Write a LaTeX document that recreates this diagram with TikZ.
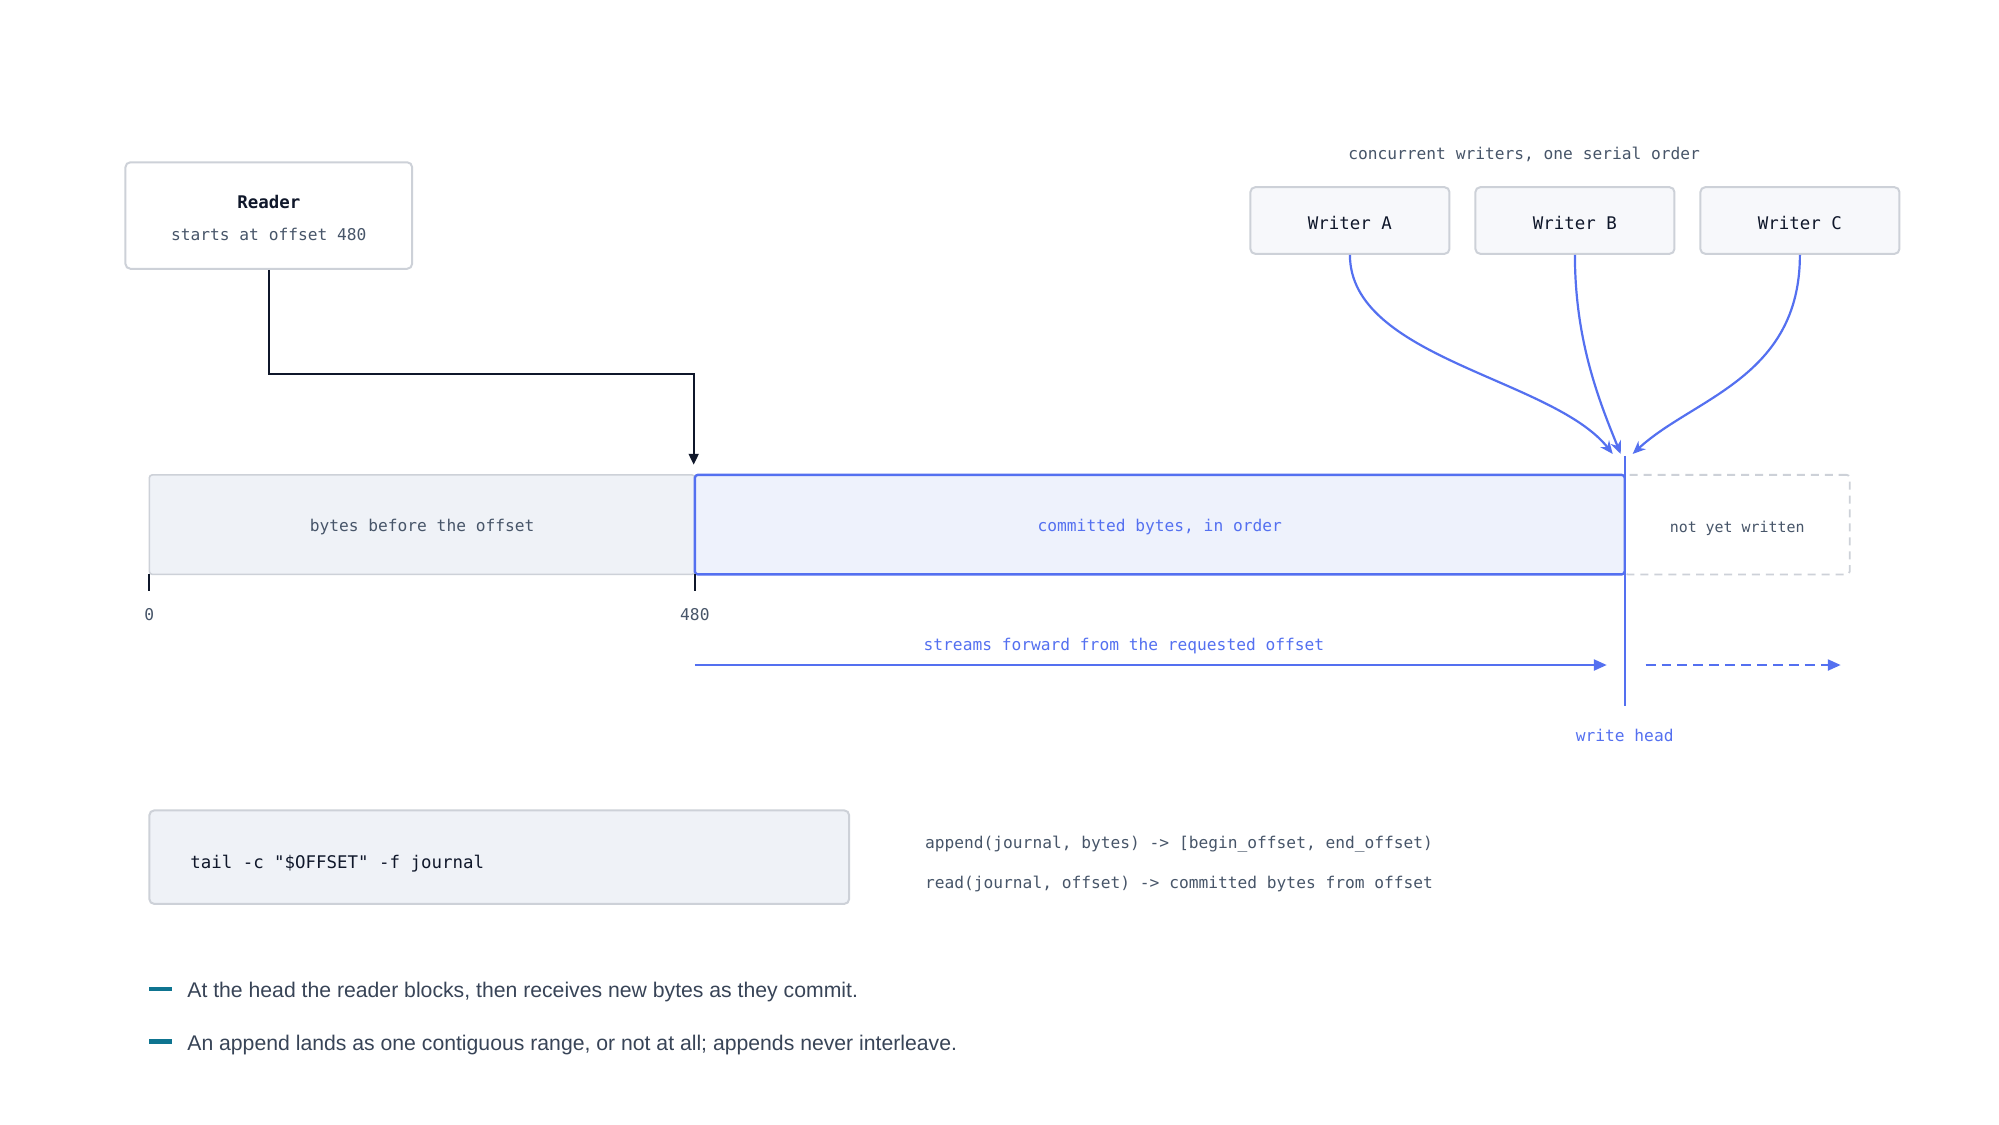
\documentclass[tikz,border=0pt]{standalone}
\usepackage{fontspec}
\setmainfont{Liberation Sans}
\setmonofont{DejaVu Sans Mono}
\usetikzlibrary{arrows.meta}
\definecolor{ink}{HTML}{0F172A}
\definecolor{slate}{HTML}{475569}
\definecolor{bluec}{HTML}{5470F0}
\definecolor{boxline}{HTML}{CDD1D8}
\definecolor{barfill}{HTML}{EFF2F7}
\definecolor{comfill}{HTML}{EEF2FC}
\definecolor{wfill}{HTML}{F7F8FB}
\definecolor{teal}{HTML}{0E7490}
\definecolor{bullettext}{HTML}{384457}
\tikzset{
  mono/.style={font=\ttfamily\fontsize{16.3}{18}\selectfont},
  lbl/.style={mono, text=slate, inner sep=0pt},
  card/.style={draw=boxline, line width=2pt, rounded corners=5pt, inner sep=0pt},
  barseg/.style={rounded corners=3pt, inner sep=0pt, minimum height=100pt},
  bluearrow/.style={draw=bluec, line width=2.4pt, -{Stealth[length=13pt,width=11pt]}},
  bullet/.style={font=\fontsize{21.3}{24}\selectfont, text=bullettext, inner sep=0pt, anchor=west},
}
\begin{document}
\begin{tikzpicture}[x=1pt,y=-1pt]
\useasboundingbox (0,0) rectangle (2008,1130);
\fill[white] (0,0) rectangle (2008,1130);

% Reader
\node[card, fill=white, minimum width=288pt, minimum height=107pt] (reader) at (270,216.5) {};
\node[lbl, text=ink, font=\ttfamily\bfseries\fontsize{17.5}{20}\selectfont] (readert) at (270,202.5) {Reader};
\node[lbl] (readers) at (270,235.5) {starts at offset 480};

% Bar
\node[barseg, draw=boxline, line width=1.6pt, fill=barfill, minimum width=548pt] (before) at (424,527) {};
\node[lbl] (beforet) at (424,529.5) {bytes before the offset};
\node[barseg, draw=bluec, line width=2.4pt, fill=comfill, minimum width=934pt] (committed) at (1165,527) {};
\node[lbl, text=bluec] (comt) at (1165,529.5) {committed bytes, in order};
\node[barseg, draw=boxline, line width=1.8pt, dashed, dash pattern=on 8pt off 6pt, minimum width=226pt] (notyet) at (1745,527) {};
\node[lbl, font=\ttfamily\fontsize{15}{17}\selectfont] (notyett) at (1745,530.5) {not yet written};

% reader connector
\coordinate (rtip) at ([yshift=9pt]committed.north west);
\draw[draw=ink, line width=2pt, -{Triangle[length=11pt,width=10pt]}] (reader.south) -- ++(0,105) -| (rtip);

% ticks
\coordinate (t0) at (150,577);
\coordinate (t480) at (698,577);
\draw[ink, line width=2pt] (t0) -- ++(0,17);
\draw[ink, line width=2pt] (t480) -- ++(0,17);
\node[lbl] (l0) at (150,617) {0};
\node[lbl] (l480) at (698,617) {480};

% write head
\coordinate (whtop) at (1632,458);
\coordinate (whbot) at (1632,709);
\draw[bluec, line width=2.4pt] (whtop) -- (whbot);
\node[lbl, text=bluec] (wht) at (1632,738.5) {write head};

% stream arrows
\coordinate (s0) at (698,668);
\coordinate (s1) at (1614,668);
\coordinate (d0) at (1653,668);
\coordinate (d1) at (1849,668);
\draw[bluearrow, -{Triangle[length=13pt,width=11pt]}] (s0) -- (s1);
\draw[bluearrow, -{Triangle[length=13pt,width=11pt]}, dash pattern=on 10pt off 6pt] (d0) -- (d1);
\node[lbl, text=bluec] (st) at (1129,648.5) {streams forward from the requested offset};

% writers
\node[lbl] (wtitle) at (1531,155.5) {concurrent writers, one serial order};
\node[card, fill=wfill, minimum width=200pt, minimum height=67pt] (wa) at (1356,221.5) {};
\node[card, fill=wfill, minimum width=200pt, minimum height=67pt] (wb) at (1582,221.5) {};
\node[card, fill=wfill, minimum width=200pt, minimum height=67pt] (wc) at (1808,221.5) {};
\node[lbl, text=ink, font=\ttfamily\fontsize{17.5}{20}\selectfont] (wat) at ([yshift=-2.5pt]wa.center) {Writer A};
\node[lbl, text=ink, font=\ttfamily\fontsize{17.5}{20}\selectfont] (wbt) at ([yshift=-2.5pt]wb.center) {Writer B};
\node[lbl, text=ink, font=\ttfamily\fontsize{17.5}{20}\selectfont] (wct) at ([yshift=-2.5pt]wc.center) {Writer C};
\coordinate (ea) at (1620,456);
\coordinate (eb) at (1628,456);
\coordinate (ec) at (1640,456);
\draw[bluearrow, line width=2.2pt] (wa.south) .. controls (1356,360) and (1560,380) .. (ea);
\draw[bluearrow, line width=2.2pt] (wb.south) .. controls (1582,340) and (1605,400) .. (eb);
\draw[bluearrow, line width=2.2pt] (wc.south) .. controls (1808,380) and (1700,400) .. (ec);

% code box
\node[card, fill=barfill, minimum width=703pt, minimum height=94pt] (code) at (501.5,861) {};
\node[lbl, text=ink, anchor=west, font=\ttfamily\fontsize{17.5}{20}\selectfont] (codet) at (191,867.5) {tail -c "\$OFFSET" -f journal};

% signatures
\node[lbl, anchor=west, font=\ttfamily\fontsize{16.3}{19}\selectfont] (sig1) at (929,847.5) {append(journal, bytes) -> [begin\_offset, end\_offset)};
\node[lbl, anchor=west, font=\ttfamily\fontsize{16.3}{19}\selectfont] (sig2) at (929,887.5) {read(journal, offset) -> committed bytes from offset};

% bullets
\fill[teal] (150,991) rectangle (173,995.5);
\node[bullet] (b1) at (188,996.5) {At the head the reader blocks, then receives new bytes as they commit.};
\fill[teal] (150,1044) rectangle (173,1048.5);
\node[bullet] (b2) at (188,1049.5) {An append lands as one contiguous range, or not at all; appends never interleave.};
\end{tikzpicture}
\end{document}
